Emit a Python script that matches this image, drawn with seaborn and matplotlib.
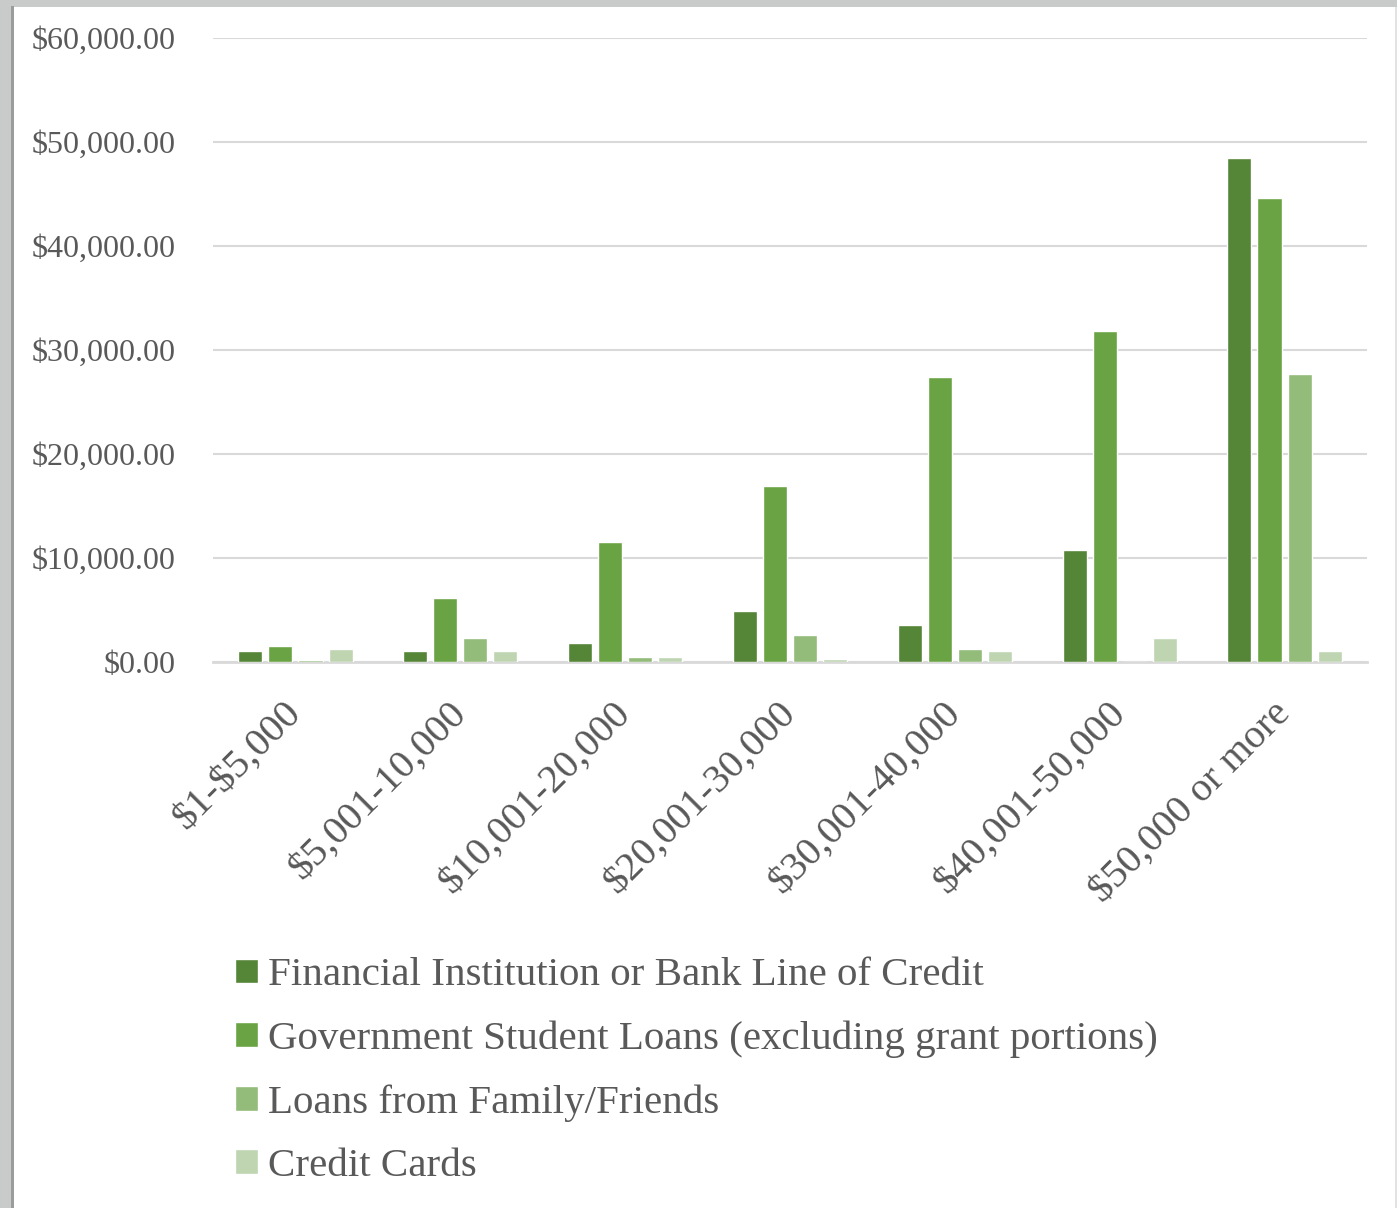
import matplotlib
matplotlib.use("Agg")
import matplotlib.pyplot as plt
from matplotlib.patches import Rectangle
from matplotlib.ticker import FuncFormatter, MultipleLocator
import seaborn as sns
import pandas as pd

# Debt ranges and average amount borrowed from each source
debt_ranges = ["$1-$5,000", "$5,001-10,000", "$10,001-20,000", "$20,001-30,000",
               "$30,001-40,000", "$40,001-50,000", "$50,000 or more"]
sources = ["Financial Institution or Bank Line of Credit",
           "Government Student Loans (excluding grant portions)",
           "Loans from Family/Friends",
           "Credit Cards"]
bank_credit = [1030, 1030, 1800, 4870, 3590, 10770, 48450]
gov_loans = [1540, 6150, 11540, 16920, 27400, 31830, 44620]
family_loans = [220, 2300, 480, 2570, 1280, 0, 27700]
credit_cards = [1250, 1030, 480, 260, 1060, 2310, 1060]
palette = ["#558536", "#6aa343", "#93bb79", "#bfd5b1"]

rows = []
for src, vals in zip(sources, [bank_credit, gov_loans, family_loans, credit_cards]):
    for rng, v in zip(debt_ranges, vals):
        rows.append({"range": rng, "source": src, "amount": v})
df = pd.DataFrame(rows)

sns.set_theme(style="white")
plt.rcParams["font.family"] = ["Liberation Serif", "DejaVu Serif"]
plt.rcParams["text.parse_math"] = False
text_color = "#595959"

W, H = 1397, 1208
fig = plt.figure(figsize=(W / 100, H / 100), dpi=100, facecolor="#c9cbca")

# White chart panel with a soft left shadow
fig.patches.append(Rectangle((11 / W, 0), 3 / W, 1 - 6 / H, transform=fig.transFigure,
                             facecolor="#9a9c9b", edgecolor="none", zorder=-5))
fig.patches.append(Rectangle((14 / W, 0), (1395 - 14) / W, 1 - 7 / H, transform=fig.transFigure,
                             facecolor="white", edgecolor="none", zorder=-5))
fig.patches.append(Rectangle((1395 / W, 0), 2 / W, 1 - 7 / H, transform=fig.transFigure,
                             facecolor="#e2e2e2", edgecolor="none", zorder=-5))

ax = fig.add_axes([213 / W, 1 - 662 / H, (1367 - 213) / W, (662 - 38) / H])
ax.set_facecolor("none")

sns.barplot(data=df, x="range", y="amount", hue="source", palette=palette,
            saturation=1, width=0.73, gap=0.2, ax=ax, legend=True, zorder=3)

ax.set_ylim(0, 60000)
ax.set_xlim(-0.5, len(debt_ranges) - 0.5)
ax.yaxis.set_major_locator(MultipleLocator(10000))
ax.yaxis.set_major_formatter(FuncFormatter(lambda v, p: f"${v:,.2f}"))
ax.grid(axis="y", color="#d9d9d9", linewidth=1.5, zorder=0)
ax.set_axisbelow(True)
for side in ["top", "right", "left"]:
    ax.spines[side].set_visible(False)
ax.spines["bottom"].set_color("#d9d9d9")
ax.spines["bottom"].set_linewidth(2)
ax.set_xlabel("")
ax.set_ylabel("")

ax.tick_params(axis="y", length=0, pad=27, labelsize=23, labelcolor=text_color)
ax.tick_params(axis="x", length=0, pad=33, labelsize=29, labelcolor=text_color)
for lbl in ax.get_xticklabels():
    lbl.set_rotation(45)
    lbl.set_ha("right")
    lbl.set_va("center")
    lbl.set_rotation_mode("anchor")

handles, labels = ax.get_legend_handles_labels()
ax.legend_.remove()
fig.legend(handles, labels, loc="upper left", bbox_to_anchor=(219 / W, 1 - 941 / H),
           frameon=False, fontsize=29.5, labelcolor=text_color,
           handlelength=0.54, handleheight=0.54, handletextpad=0.25,
           labelspacing=0.64, borderaxespad=0)

fig.savefig("out.png", dpi=100, facecolor=fig.get_facecolor())
